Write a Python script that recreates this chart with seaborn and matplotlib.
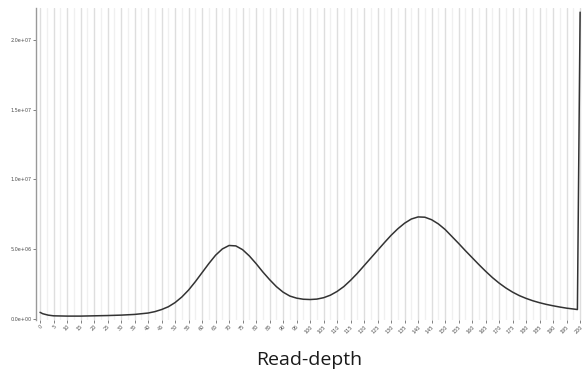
import numpy as np
import pandas as pd
import matplotlib
matplotlib.use("Agg")
import matplotlib.pyplot as plt
from matplotlib.ticker import MultipleLocator, FuncFormatter
import seaborn as sns

# Read-depth (x) and count (y, in millions)
depth = [0, 1, 2, 3, 5, 10, 15, 20, 25, 30, 35, 40, 42.5, 45, 47.5, 50, 52.5, 55, 57.5,
         60, 62.5, 65, 67.5, 70, 72.5, 75, 77.5, 80, 82.5, 85, 87.5, 90, 92.5, 95, 97.5,
         100, 102.5, 105, 107.5, 110, 112.5, 115, 117.5, 120, 122.5, 125, 127.5, 130,
         132.5, 135, 137.5, 140, 142.5, 145, 147.5, 150, 152.5, 155, 157.5, 160, 162.5,
         165, 167.5, 170, 172.5, 175, 177.5, 180, 182.5, 185, 187.5, 190, 192.5, 195,
         197.5, 199, 200]
count_m = [0.45, 0.35, 0.30, 0.25, 0.20, 0.18, 0.18, 0.20, 0.22, 0.25, 0.30, 0.40, 0.50,
           0.65, 0.85, 1.15, 1.55, 2.05, 2.65, 3.30, 3.95, 4.55, 5.00, 5.25, 5.22, 4.95,
           4.50, 3.95, 3.35, 2.80, 2.30, 1.90, 1.62, 1.47, 1.39, 1.37, 1.40, 1.50, 1.68,
           1.95, 2.30, 2.75, 3.25, 3.80, 4.35, 4.90, 5.45, 5.98, 6.45, 6.85, 7.15, 7.30,
           7.28, 7.10, 6.80, 6.40, 5.90, 5.40, 4.88, 4.38, 3.88, 3.40, 2.95, 2.55, 2.20,
           1.90, 1.65, 1.45, 1.28, 1.14, 1.02, 0.92, 0.83, 0.75, 0.69, 0.65, 22.0]

df = pd.DataFrame({"depth": depth, "count": np.array(count_m) * 1e6})

sns.set_theme(style="white")
fig = plt.figure(figsize=(5.84, 3.84), dpi=100)
ax = fig.add_axes([36 / 584, 1 - 320 / 384, 546 / 584, 312 / 384])

sns.lineplot(data=df, x="depth", y="count", ax=ax, color="#333333", linewidth=1.1)

ax.set_xlim(-1.5, 200.7)
ax.set_ylim(-0.1e6, 2.23e7)
ax.xaxis.set_major_locator(MultipleLocator(5))
ax.xaxis.set_minor_locator(MultipleLocator(2.5))
ax.set_yticks([0, 5e6, 1e7, 1.5e7, 2e7])
ax.yaxis.set_major_formatter(FuncFormatter(lambda v, p: f"{v:.1e}"))
ax.grid(True, axis="x", which="major", color="#dedede", linewidth=1.0)
ax.grid(True, axis="x", which="minor", color="#f0f0f0", linewidth=1.0)
ax.grid(False, axis="y")
for s in ["top", "right", "bottom"]:
    ax.spines[s].set_visible(False)
ax.spines["left"].set_color("#999999")
ax.spines["left"].set_linewidth(1.0)

ax.tick_params(axis="both", which="major", labelsize=3.5, labelcolor="#4d4d4d",
               length=2, width=0.5, color="#4d4d4d", pad=1, bottom=True, left=True)
ax.tick_params(axis="x", which="minor", length=0)
plt.setp(ax.get_xticklabels(), rotation=45, ha="right", rotation_mode="anchor")

ax.set_ylabel("")
ax.set_xlabel("Read-depth", fontsize=14, family="Open Sans", color="#1a1a1a", labelpad=12)

fig.savefig("out.png", dpi=100)
